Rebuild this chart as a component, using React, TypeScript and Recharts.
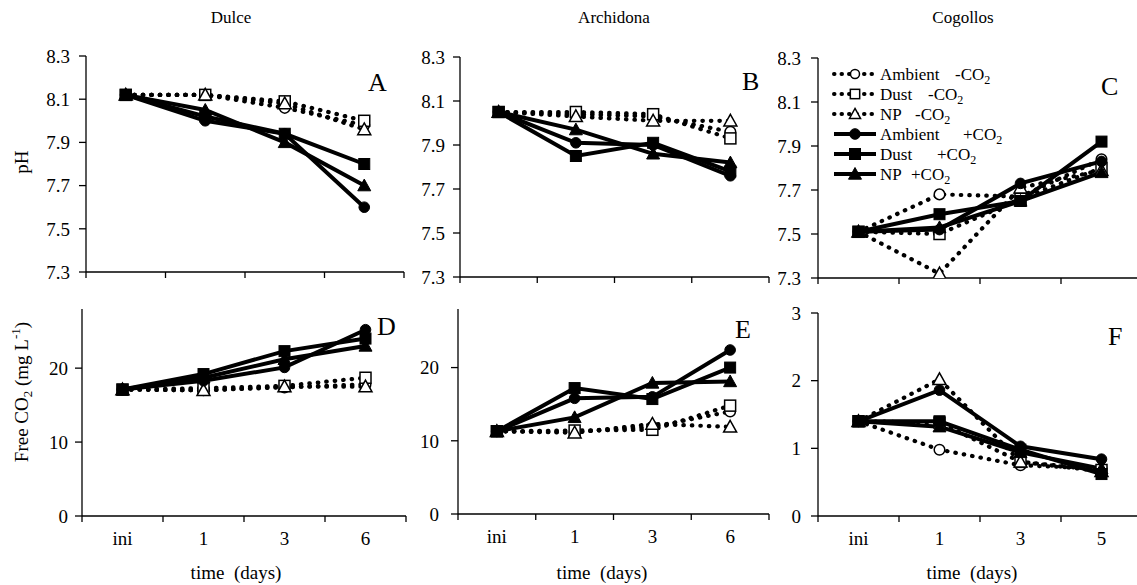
import React from "react";
import { LineChart, Line, XAxis, YAxis } from "recharts";

const FONT = '"Liberation Serif", "Times New Roman", Times, serif';

// ---------- categories ----------
const daysDulceArch = ["ini", "1", "3", "6"];
const daysCogollos = ["ini", "1", "3", "5"];

// ---------- tick labels ----------
const phTicks = [7.3, 7.5, 7.7, 7.9, 8.1, 8.3];
const co2TicksDE = [0, 10, 20];
const co2TicksF = [0, 1, 2, 3];

// ---------- series legend labels ----------
const seriesNames = ["Ambient", "Dust", "NP", "Ambient", "Dust", "NP"];
const seriesSigns = ["-CO", "-CO", "-CO", "+CO", "+CO", "+CO"];

// ---------- pH, Dulce (A) ----------
const phDulceAmbM = [8.12, 8.12, 8.06, 7.98];
const phDulceDustM = [8.12, 8.12, 8.09, 8.0];
const phDulceNpM = [8.12, 8.12, 8.08, 7.96];
const phDulceAmbP = [8.12, 8.0, 7.94, 7.6];
const phDulceDustP = [8.12, 8.02, 7.94, 7.8];
const phDulceNpP = [8.12, 8.05, 7.9, 7.7];

// ---------- pH, Archidona (B) ----------
const phArchAmbM = [8.05, 8.04, 8.03, 7.96];
const phArchDustM = [8.05, 8.05, 8.04, 7.93];
const phArchNpM = [8.05, 8.03, 8.01, 8.01];
const phArchAmbP = [8.05, 7.91, 7.9, 7.76];
const phArchDustP = [8.05, 7.85, 7.91, 7.78];
const phArchNpP = [8.05, 7.97, 7.86, 7.82];

// ---------- pH, Cogollos (C) ----------
const phCogAmbM = [7.51, 7.68, 7.67, 7.84];
const phCogDustM = [7.51, 7.5, 7.66, 7.8];
const phCogNpM = [7.51, 7.32, 7.71, 7.79];
const phCogAmbP = [7.51, 7.52, 7.73, 7.83];
const phCogDustP = [7.51, 7.59, 7.65, 7.92];
const phCogNpP = [7.51, 7.53, 7.65, 7.78];

// ---------- Free CO2, Dulce (D) ----------
const co2DulceAmbM = [17.1, 17.0, 17.4, 17.8];
const co2DulceDustM = [17.1, 17.3, 17.6, 18.7];
const co2DulceNpM = [17.1, 17.0, 17.5, 17.5];
const co2DulceAmbP = [17.1, 18.3, 20.1, 25.2];
const co2DulceDustP = [17.1, 19.2, 22.3, 24.0];
const co2DulceNpP = [17.1, 18.7, 21.2, 23.0];

// ---------- Free CO2, Archidona (E) ----------
const co2ArchAmbM = [11.3, 11.2, 11.9, 14.0];
const co2ArchDustM = [11.3, 11.4, 11.5, 14.8];
const co2ArchNpM = [11.3, 11.1, 12.3, 11.9];
const co2ArchAmbP = [11.3, 15.8, 16.0, 22.4];
const co2ArchDustP = [11.3, 17.2, 15.7, 20.0];
const co2ArchNpP = [11.3, 13.2, 17.9, 18.1];

// ---------- Free CO2, Cogollos (F) ----------
const co2CogAmbM = [1.4, 0.98, 0.75, 0.7];
const co2CogDustM = [1.4, 1.38, 0.8, 0.68];
const co2CogNpM = [1.4, 2.02, 0.8, 0.66];
const co2CogAmbP = [1.4, 1.86, 1.03, 0.84];
const co2CogDustP = [1.4, 1.4, 0.98, 0.62];
const co2CogNpP = [1.4, 1.32, 0.94, 0.7];

type Shape = "circle" | "square" | "triangle";
const SERIES: { key: string; shape: Shape; filled: boolean }[] = [
  { key: "ambM", shape: "circle", filled: false },
  { key: "dustM", shape: "square", filled: false },
  { key: "npM", shape: "triangle", filled: false },
  { key: "ambP", shape: "circle", filled: true },
  { key: "dustP", shape: "square", filled: true },
  { key: "npP", shape: "triangle", filled: true },
];

function buildRows(days: string[], arrs: number[][]) {
  return days.map((d, i) => {
    const r: any = { day: d };
    SERIES.forEach((s, j) => {
      r[s.key] = arrs[j][i];
    });
    return r;
  });
}

function Marker({ cx, cy, shape, filled, s = 1 }: { cx: number; cy: number; shape: Shape; filled: boolean; s?: number }) {
  const fill = filled ? "#000" : "#fff";
  const sw = filled ? 1 : 1.5;
  if (shape === "circle") return <circle cx={cx} cy={cy} r={5.3 * s} fill={fill} stroke="#000" strokeWidth={sw} />;
  if (shape === "square") {
    const h = 5.5 * s;
    return <rect x={cx - h} y={cy - h} width={2 * h} height={2 * h} fill={fill} stroke="#000" strokeWidth={sw} />;
  }
  const a = 6.5 * s;
  return (
    <polygon
      points={`${cx},${cy - a} ${cx + a},${cy + a * 0.8} ${cx - a},${cy + a * 0.8}`}
      fill={fill}
      stroke="#000"
      strokeWidth={sw}
      strokeLinejoin="miter"
    />
  );
}

type PanelDef = {
  id: string;
  left: number;
  top: number;
  w: number;
  h: number;
  days: string[];
  data: any[];
  domain: [number, number];
  ticks: number[];
  fmt: (v: number) => string;
  showX: boolean;
  tm: number;
};

const fmtPh = (v: number) => v.toFixed(1);
const fmtInt = (v: number) => String(v);

const panels: PanelDef[] = [
  {
    id: "A", left: 86, top: 56, w: 318, h: 216, days: daysDulceArch,
    data: buildRows(daysDulceArch, [phDulceAmbM, phDulceDustM, phDulceNpM, phDulceAmbP, phDulceDustP, phDulceNpP]),
    domain: [7.3, 8.3], ticks: phTicks, fmt: fmtPh, showX: false, tm: 9,
  },
  {
    id: "B", left: 460, top: 57, w: 309, h: 220, days: daysDulceArch,
    data: buildRows(daysDulceArch, [phArchAmbM, phArchDustM, phArchNpM, phArchAmbP, phArchDustP, phArchNpP]),
    domain: [7.3, 8.3], ticks: phTicks, fmt: fmtPh, showX: false, tm: 8,
  },
  {
    id: "C", left: 818, top: 58, w: 324, h: 220, days: daysCogollos,
    data: buildRows(daysCogollos, [phCogAmbM, phCogDustM, phCogNpM, phCogAmbP, phCogDustP, phCogNpP]),
    domain: [7.3, 8.3], ticks: phTicks, fmt: fmtPh, showX: false, tm: 10,
  },
  {
    id: "D", left: 82, top: 309, w: 324, h: 207, days: daysDulceArch,
    data: buildRows(daysDulceArch, [co2DulceAmbM, co2DulceDustM, co2DulceNpM, co2DulceAmbP, co2DulceDustP, co2DulceNpP]),
    domain: [0, 28], ticks: co2TicksDE, fmt: fmtInt, showX: true, tm: 7,
  },
  {
    id: "E", left: 458, top: 309, w: 311, h: 205, days: daysDulceArch,
    data: buildRows(daysDulceArch, [co2ArchAmbM, co2ArchDustM, co2ArchNpM, co2ArchAmbP, co2ArchDustP, co2ArchNpP]),
    domain: [0, 28], ticks: co2TicksDE, fmt: fmtInt, showX: true, tm: 12,
  },
  {
    id: "F", left: 818, top: 313, w: 324, h: 203, days: daysCogollos,
    data: buildRows(daysCogollos, [co2CogAmbM, co2CogDustM, co2CogNpM, co2CogAmbP, co2CogDustP, co2CogNpP]),
    domain: [0, 3], ticks: co2TicksF, fmt: fmtInt, showX: true, tm: 10,
  },
];

const AX = { stroke: "#000", strokeWidth: 1.3 };

function XTick(props: any) {
  const { x, y, payload, bw, last, showLabel } = props;
  const isLast = payload && payload.value === last;
  return (
    <g>
      <line x1={x - bw / 2} x2={x - bw / 2} y1={y} y2={y + 6} stroke="#000" strokeWidth={1.3} />
      {isLast && <line x1={x + bw / 2} x2={x + bw / 2} y1={y} y2={y + 6} stroke="#000" strokeWidth={1.3} />}
      {showLabel && (
        <text x={x} y={y + 29} textAnchor="middle" fontFamily={FONT} fontSize={19} fill="#000">
          {payload.value}
        </text>
      )}
    </g>
  );
}

function Panel({ p }: { p: PanelDef }) {
  const padX = p.w / 8;
  const bottomH = p.showX ? 40 : 12;
  const chartW = 40 + p.w + 12;
  const chartH = 10 + p.h + bottomH;
  return (
    <div style={{ position: "absolute", left: p.left - 40, top: p.top - 10 }}>
      <LineChart width={chartW} height={chartH} data={p.data} margin={{ top: 10, right: 12, bottom: 0, left: 0 }}>
        <XAxis
          dataKey="day"
          padding={{ left: padX, right: padX }}
          height={bottomH}
          axisLine={AX}
          tickLine={false}
          tickSize={0}
          tickMargin={0}
          interval={0}
          tick={(tp: any) => <XTick {...tp} bw={p.w / 4} last={p.days[p.days.length - 1]} showLabel={p.showX} />}
        />
        <XAxis xAxisId="top" orientation="top" dataKey="day" height={0} tick={false} tickLine={false} axisLine={AX} />
        <YAxis
          type="number"
          domain={p.domain}
          ticks={p.ticks}
          interval={0}
          allowDataOverflow
          width={40}
          axisLine={AX}
          tickLine={AX}
          tickSize={7}
          tickMargin={p.tm}
          tickFormatter={p.fmt}
          tick={{ fontFamily: FONT, fontSize: 19, fill: "#000" }}
        />
        <YAxis yAxisId="right" orientation="right" width={0} tick={false} tickLine={false} axisLine={AX} />
        {SERIES.map((s) => (
          <Line
            key={s.key}
            type="linear"
            dataKey={s.key}
            stroke="#000"
            strokeWidth={s.filled ? 4 : 4.2}
            strokeDasharray={s.filled ? undefined : "0.5 8"}
            strokeLinecap="round"
            activeDot={false}
            isAnimationActive={false}
            dot={(dp: any) =>
              dp.cx == null ? <g key={`${s.key}-${dp.index}`} /> : (
                <Marker key={`${s.key}-${dp.index}`} cx={dp.cx} cy={dp.cy} shape={s.shape} filled={s.filled} />
              )
            }
          />
        ))}
      </LineChart>
    </div>
  );
}

function Overlay() {
  const titles = [
    { t: "Dulce", x: 231 },
    { t: "Archidona", x: 614 },
    { t: "Cogollos", x: 963 },
  ];
  const letters = [
    { t: "A", x: 368, y: 91 },
    { t: "B", x: 742, y: 90 },
    { t: "C", x: 1101, y: 95 },
    { t: "D", x: 377, y: 335 },
    { t: "E", x: 735, y: 338 },
    { t: "F", x: 1108, y: 345 },
  ];
  const timeX = [236, 602, 972];
  const legendSignX = [955, 928, 915, 963, 937, 911];
  return (
    <svg width={1137} height={585} style={{ position: "absolute", left: 0, top: 0, pointerEvents: "none" }}>
      {titles.map((t) => (
        <text key={t.t} x={t.x} y={23} textAnchor="middle" fontFamily={FONT} fontSize={17} fill="#000">
          {t.t}
        </text>
      ))}
      {letters.map((l) => (
        <text key={l.t} x={l.x} y={l.y} fontFamily={FONT} fontSize={26} fill="#000">
          {l.t}
        </text>
      ))}
      {timeX.map((x, i) => (
        <text key={i} x={x} y={579} textAnchor="middle" fontFamily={FONT} fontSize={19} fill="#000" style={{ whiteSpace: "pre" }}>
          time  (days)
        </text>
      ))}
      <text x={24} y={162} transform="rotate(-90 24 162)" textAnchor="middle" dominantBaseline="middle" fontFamily={FONT} fontSize={19} fill="#000">
        pH
      </text>
      <text x={24} y={392} transform="rotate(-90 24 392)" textAnchor="middle" dominantBaseline="middle" fontFamily={FONT} fontSize={19} fill="#000" style={{ whiteSpace: "pre" }}>
        <tspan>Free CO</tspan>
        <tspan fontSize={13} dy={5}>2</tspan>
        <tspan dy={-5}> (mg L</tspan>
        <tspan fontSize={13} dy={-7}>-1</tspan>
        <tspan dy={7}>)</tspan>
      </text>
      {SERIES.map((s, i) => {
        const cy = 74 + i * 20;
        return (
          <g key={s.key}>
            <line
              x1={834}
              x2={876}
              y1={cy}
              y2={cy}
              stroke="#000"
              strokeWidth={4}
              strokeDasharray={s.filled ? undefined : "0.5 7"}
              strokeLinecap={s.filled ? "butt" : "round"}
            />
            <Marker cx={855} cy={cy} shape={s.shape} filled={s.filled} s={s.filled ? 1 : 0.85} />
            <text x={880} y={cy + 6} fontFamily={FONT} fontSize={17} fill="#000">
              {seriesNames[i]}
            </text>
            <text x={legendSignX[i]} y={cy + 6} fontFamily={FONT} fontSize={17} fill="#000">
              {seriesSigns[i]}
              <tspan fontSize={12} dy={4}>2</tspan>
            </text>
          </g>
        );
      })}
    </svg>
  );
}

export default function App() {
  return (
    <div
      style={{
        position: "absolute",
        left: 0,
        top: 0,
        width: 1137,
        height: 585,
        overflow: "hidden",
        background: "#fff",
        fontFamily: FONT,
      }}
    >
      {panels.map((p) => (
        <Panel key={p.id} p={p} />
      ))}
      <Overlay />
    </div>
  );
}
